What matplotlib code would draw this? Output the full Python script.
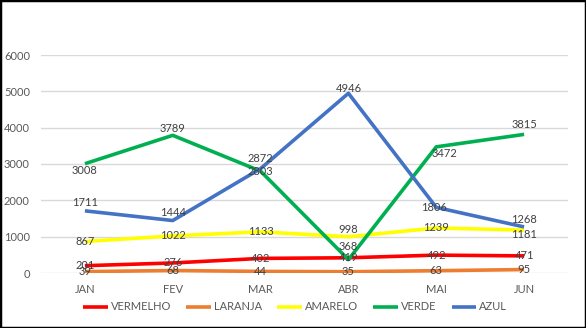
import matplotlib.pyplot as plt
from matplotlib.patches import Rectangle

# -----------------------------
# Data
# -----------------------------
meses = ["JAN", "FEV", "MAR", "ABR", "MAI", "JUN"]

vermelho = [201, 276, 402, 419, 492, 471]
laranja = [39, 68, 44, 35, 63, 95]
amarelo = [867, 1022, 1133, 998, 1239, 1181]
verde = [3008, 3789, 2803, 368, 3472, 3815]
azul = [1711, 1444, 2872, 4946, 1806, 1268]

# label offsets (pixels, x / y) for each point of each series
series = [
    ("VERMELHO", vermelho, "#FF0000", [(0, 0)] * 6),
    ("LARANJA", laranja, "#ED7D31", [(0, 0)] * 6),
    ("AMARELO", amarelo, "#FFFF00", [(0, 0), (0, 0), (0, 0), (0, 7), (0, 0), (0, -4)]),
    ("VERDE", verde, "#00B050", [(0, -7), (0, 7), (0, 0), (0, 13), (8, -7), (0, 10)]),
    ("AZUL", azul, "#4472C4", [(0, 8), (0, 8), (0, 10), (0, 5), (-2, 0), (0, 7)]),
]

plt.rcParams["font.family"] = ["Lato", "DejaVu Sans"]
cinza = "#595959"
fs = 8

W, H = 586, 328
fig = plt.figure(figsize=(W / 100, H / 100), dpi=100)
ax = fig.add_axes([41 / W, 1 - 273 / H, 527 / W, 218 / H])

x = range(len(meses))
for name, vals, color, offs in series:
    ax.plot(x, vals, color=color, lw=2.6, label=name, solid_capstyle="butt")
for name, vals, color, offs in series:
    for i, v in enumerate(vals):
        ax.annotate(str(v), (i, v), xytext=offs[i], textcoords="offset pixels",
                    ha="center", va="center", fontsize=fs, color="#404040")

ax.set_xlim(-0.5, 5.5)
ax.set_ylim(0, 6000)
ax.set_yticks(range(0, 7000, 1000))
ax.set_xticks(list(x))
ax.set_xticklabels(meses)
ax.grid(axis="y", color="#D9D9D9", lw=1)
ax.set_axisbelow(True)
for s in ax.spines.values():
    s.set_visible(False)
ax.tick_params(length=0, colors=cinza, labelsize=fs)
ax.tick_params(axis="y", pad=8)
ax.tick_params(axis="x", pad=8)

ax.legend(loc="center", bbox_to_anchor=(295 / W, 1 - 307 / H), bbox_transform=fig.transFigure,
          ncol=5, frameon=False, fontsize=fs, labelcolor=cinza, handlelength=2.2,
          handletextpad=0.25, columnspacing=1.4)

# chart border
fig.patches.append(Rectangle((0, 0), 1, 1, transform=fig.transFigure, fill=False,
                             edgecolor="black", lw=2.5))

fig.savefig("out.png", dpi=100)
